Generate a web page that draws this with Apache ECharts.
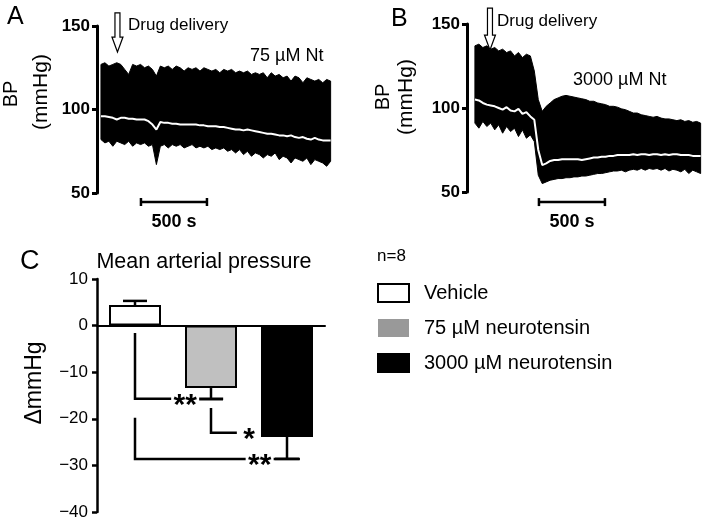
<!DOCTYPE html>
<html><head><meta charset="utf-8">
<script src="https://cdn.jsdelivr.net/npm/echarts@6/dist/echarts.min.js"></script>
<style>html,body{margin:0;padding:0;background:#fff}#c{width:709px;height:523px}</style>
</head><body><div id="c"></div>
<script>
// ---------- Panel A: 75 µM Nt (time in s, BP in mmHg) ----------
const timeA = [30,60,90,120,150,180,210,240,270,300,330,360,390,420,450,480,510,540,570,600,630,660,690,720,750,780,810,840,870,900,930,960,990,1020,1050,1080,1110,1140,1170,1200,1230,1260,1290,1320,1350,1380,1410,1440,1470,1500,1530,1560,1590,1620,1650,1680,1710,1740,1770];
const upperA = [127,128,126,127,128,127,124,121,127,126,127,125,126,124,120,126,125,126,124,126,125,123,125,124,125,123,125,124,123,124,122,124,123,124,122,123,122,123,121,122,121,122,119,122,120,121,119,120,117,120,119,116,119,118,117,118,116,118,117];
const lowerA = [82,80,81,78,81,80,79,81,78,80,79,80,78,79,67,78,79,77,79,78,79,77,78,79,77,78,77,78,76,77,76,77,75,76,74,76,73,75,72,74,73,71,73,72,74,70,72,71,68,71,70,69,71,67,70,69,68,66,69];
const meanA = [96,96,95.5,95,94,95,95,94.5,94.5,94,94,94,93,91,88,92.5,92,92,91.5,91.5,91,91,91,91,91,90.5,90.5,90,90,90,89.5,89.5,89,88.5,88,88,87.5,88,87.5,87,86.5,86,85.5,85.5,85,84.5,84.5,84,84.5,83.5,83,83.5,82.5,82,83,82,81.5,81.5,81.5];

// ---------- Panel B: 3000 µM Nt ----------
const timeB = [60,90,120,150,180,210,240,270,300,330,360,390,420,450,480,510,540,570,600,630,660,690,720,750,780,810,840,870,900,930,960,990,1020,1050,1080,1110,1140,1170,1200,1230,1260,1290,1320,1350,1380,1410,1440,1470,1500,1530,1560,1590,1620,1650,1680,1710,1740,1770];
const upperB = [137,138,136,137,135,136,134,135,133,134,131,133,130,132,131,122,105,98,101,103,105,106,107,107.5,107,106.5,106,105.5,105,104,104,103,102.5,102,101,101,100.5,99.5,99,98,97,97,96,95.5,95,94.5,95,94,93.5,93.5,93,92.5,93,92,92.5,91.5,92,91];
const lowerB = [91,88,92,89,91,87,90,85,89,86,88,83,87,82,84,80,60,55,56,57,57.5,58,58,58.5,58.5,59,59,59.5,59.5,60,60.5,61,61,61.5,62,62.5,62.5,63,62,63,63.5,63,64,63,64,63.5,64,63,64,62.5,63.5,63,62,63.5,61,63,62,61];
const meanB = [105,104.5,103,102,101.5,101,100,99,100.5,98.5,98,99.5,96.5,97.5,95,93,75,66,67,68.5,69,69,69.5,69.5,69.5,69.5,69.5,69,69.5,70,70.5,70.5,71,71,71.5,71.5,72,72,72,72,72.5,72,72.5,72.5,72,72.5,72.5,72,72.5,72,72.5,72.5,72,72,72,71.5,71.5,71.5];

const bpTicks = [50, 100, 150];
const drugTimeA = 155, drugTimeB = 174;
const scaleBarA = [333, 833, 44.6];
const scaleBarB = [545, 1045, 44.0];
const scaleLabel = '500 s';

// ---------- Panel C: mean arterial pressure ----------
const groups = ['Vehicle', '75 µM neurotensin', '3000 µM neurotensin'];
const meanChange = [4.4, -13.4, -23.9];
const semChange = [0.9, 2.4, 4.7];
const cTicks = [10, 0, -10, -20, -30, -40];
// significance brackets: vertical x, top, bottom, horizontal end x, star x, text
const brX = [0, 1, 0];
const brTop = [-1.6, -17.7, -19.8];
const brBottom = [-15.7, -23.0, -28.6];
const brEnd = [1.16, 1.34, 2.17];
const starX = [0.66, 1.5, 1.64];
const starText = ['**', '*', '**'];

const FF = '"Liberation Sans", Arial, Helvetica, sans-serif';
const zip = (a, b) => a.map((v, i) => [v, b[i]]);

// envelope band of the pressure trace, drawn as one polygon through the library's coordinate system
function makeBand(time, lo, up) {
  return function (params, api) {
    if (params.dataIndex !== 0) return null;
    const pts = [];
    for (let i = 0; i < time.length; i++) pts.push(api.coord([time[i], up[i]]));
    for (let i = time.length - 1; i >= 0; i--) pts.push(api.coord([time[i], lo[i]]));
    return {type: 'polygon', shape: {points: pts}, style: {fill: '#000', stroke: '#000', lineWidth: 1}};
  };
}
function scaleBarRender(params, api) {
  const p1 = api.coord([api.value(0), api.value(2)]);
  const p2 = api.coord([api.value(1), api.value(2)]);
  const st = {stroke: '#000', lineWidth: 2.5};
  return {type: 'group', children: [
    {type: 'line', shape: {x1: p1[0], y1: p1[1], x2: p2[0], y2: p2[1]}, style: st},
    {type: 'line', shape: {x1: p1[0], y1: p1[1] - 4, x2: p1[0], y2: p1[1] + 4}, style: st},
    {type: 'line', shape: {x1: p2[0], y1: p2[1] - 4, x2: p2[0], y2: p2[1] + 4}, style: st},
    {type: 'text', x: (p1[0] + p2[0]) / 2, y: p1[1] + 20,
     style: {text: scaleLabel, fontSize: 18, fontWeight: 'bold', fontFamily: FF, fill: '#000',
             align: 'center', verticalAlign: 'middle', textAlign: 'center', textVerticalAlign: 'middle'}}
  ]};
}
function arrowRender(params, api) {
  const t = api.value(0);
  const tip = api.coord([t, api.value(1)]);
  const top = api.coord([t, api.value(2)]);
  const x = tip[0], hy = tip[1] - 15;
  return {type: 'polygon', z2: 10,
    shape: {points: [[x - 2.5, top[1]], [x + 2.5, top[1]], [x + 2.5, hy], [x + 5.5, hy], [x, tip[1]], [x - 5.5, hy], [x - 2.5, hy]]},
    style: {fill: '#fff', stroke: '#000', lineWidth: 1.2}};
}
function errRender(params, api) {
  const x = api.value(0), m = api.value(1), e = api.value(2);
  const end = m >= 0 ? m + e : m - e;
  const a = api.coord([x, m]), b = api.coord([x, end]);
  const st = {stroke: '#000', lineWidth: 2.5};
  return {type: 'group', children: [
    {type: 'line', shape: {x1: a[0], y1: a[1], x2: b[0], y2: b[1]}, style: st},
    {type: 'line', shape: {x1: b[0] - 12, y1: b[1], x2: b[0] + 12, y2: b[1]}, style: st}
  ]};
}
function bracketRender(params, api) {
  const i = params.dataIndex;
  const x = api.value(0), top = api.value(1), bot = api.value(2), xe = api.value(3), xs = api.value(4);
  const a = api.coord([x, top]), b = api.coord([x, bot]), c = api.coord([xe, bot]), s = api.coord([xs, bot]);
  const st = {stroke: '#000', lineWidth: 2.5};
  const txt = starText[i];
  const w = txt.length * 13;
  return {type: 'group', children: [
    {type: 'polyline', shape: {points: [a, b, c]}, style: Object.assign({fill: null}, st)},
    {type: 'rect', shape: {x: s[0] - w / 2 - 1, y: s[1] - 6, width: w + 2, height: 12}, style: {fill: '#fff'}},
    {type: 'text', x: s[0], y: s[1] + 7,
     style: {text: txt, fontSize: 30, fontWeight: 'bold', fontFamily: FF, fill: '#000',
             align: 'center', verticalAlign: 'middle', textAlign: 'center', textVerticalAlign: 'middle'}}
  ]};
}

function txt(text, x, y, size, opts) {
  return Object.assign({type: 'text', x: x, y: y,
    style: Object.assign({text: text, fontSize: size, fontFamily: FF, fill: '#000',
      align: 'left', verticalAlign: 'middle', textAlign: 'left', textVerticalAlign: 'middle'}, (opts && opts.style) || {})},
    (opts && opts.el) || {});
}
const rot = {el: {rotation: Math.PI / 2}, style: {align: 'center', textAlign: 'center'}};
const ctr = {style: {align: 'center', textAlign: 'center'}};

const bpAxis = (gi) => ({gridIndex: gi, type: 'value', min: 50, max: 150, interval: 50,
  axisLine: {show: true, onZero: false, lineStyle: {color: '#000', width: 3}},
  axisTick: {show: true, length: 5, lineStyle: {color: '#000', width: 3}},
  axisLabel: {fontSize: 17, fontWeight: 'bold', color: '#000', margin: 7, fontFamily: FF},
  splitLine: {show: false}});

const chart = echarts.init(document.getElementById('c'));
chart.setOption({
  animation: false,
  backgroundColor: '#fff',
  textStyle: {fontFamily: FF},
  grid: [
    {left: 97, top: 26, width: 237.6, height: 167},
    {left: 467, top: 24, width: 237.6, height: 168},
    {left: 97, top: 279, width: 228, height: 233}
  ],
  xAxis: [
    {gridIndex: 0, type: 'value', min: 0, max: 1800, show: false},
    {gridIndex: 1, type: 'value', min: 0, max: 1800, show: false},
    {gridIndex: 2, type: 'category', data: groups,
     axisLine: {onZero: true, lineStyle: {color: '#000', width: 2}},
     axisTick: {show: false}, axisLabel: {show: false}, splitLine: {show: false}},
    {gridIndex: 2, type: 'value', min: -0.5, max: 2.5, show: false}
  ],
  yAxis: [
    bpAxis(0), bpAxis(1),
    {gridIndex: 2, type: 'value', min: -40, max: 10, interval: 10,
     axisLine: {show: true, onZero: false, lineStyle: {color: '#000', width: 2.5}},
     axisTick: {show: true, length: 5, lineStyle: {color: '#000', width: 2.5}},
     axisLabel: {fontSize: 17, color: '#000', margin: 9, fontFamily: FF,
       formatter: v => v < 0 ? '\u2212' + Math.abs(v) : String(v)},
     splitLine: {show: false}}
  ],
  legend: {
    orient: 'vertical', left: 377, top: 283, padding: 0,
    itemWidth: 31, itemHeight: 18, itemGap: 15, icon: 'rect', selectedMode: false,
    textStyle: {fontSize: 20, color: '#000', fontFamily: FF, padding: [0, 0, 0, 10]},
    data: [
      {name: groups[0]},
      {name: groups[1], itemStyle: {color: '#999999', borderWidth: 0}},
      {name: groups[2]}
    ]
  },
  graphic: [
    txt('A', 7, 17, 25),
    txt('B', 391, 19, 25),
    txt('C', 20, 262, 27),
    txt('BP', 11, 94, 20, rot),
    txt('(mmHg)', 41, 92, 21, rot),
    txt('BP', 383, 97, 20, rot),
    txt('(mmHg)', 406, 97, 21, rot),
    txt('Drug delivery', 128, 25, 17),
    txt('Drug delivery', 497, 21, 17),
    txt('75 µM Nt', 250, 56, 18),
    txt('3000 µM Nt', 573, 80, 18),
    txt('Mean arterial pressure', 204, 262, 21.5, ctr),
    txt('ΔmmHg', 35, 383, 23, rot),
    txt('n=8', 377, 256, 17)
  ],
  series: [
    {type: 'custom', xAxisIndex: 0, yAxisIndex: 0, silent: true, renderItem: makeBand(timeA, lowerA, upperA),
     encode: {x: 0, y: [1, 2]}, data: timeA.map((t, i) => [t, lowerA[i], upperA[i]])},
    {type: 'line', xAxisIndex: 0, yAxisIndex: 0, data: zip(timeA, meanA), symbol: 'none', silent: true,
     lineStyle: {color: '#fff', width: 2}},
    {type: 'custom', xAxisIndex: 1, yAxisIndex: 1, silent: true, renderItem: makeBand(timeB, lowerB, upperB),
     encode: {x: 0, y: [1, 2]}, data: timeB.map((t, i) => [t, lowerB[i], upperB[i]])},
    {type: 'line', xAxisIndex: 1, yAxisIndex: 1, data: zip(timeB, meanB), symbol: 'none', silent: true,
     lineStyle: {color: '#fff', width: 2}},
    {type: 'custom', xAxisIndex: 0, yAxisIndex: 0, clip: false, silent: true, renderItem: scaleBarRender, data: [scaleBarA]},
    {type: 'custom', xAxisIndex: 1, yAxisIndex: 1, clip: false, silent: true, renderItem: scaleBarRender, data: [scaleBarB]},
    {type: 'custom', xAxisIndex: 0, yAxisIndex: 0, clip: false, silent: true, z: 5, renderItem: arrowRender, data: [[drugTimeA, 134.4, 157.8]]},
    {type: 'custom', xAxisIndex: 1, yAxisIndex: 1, clip: false, silent: true, z: 5, renderItem: arrowRender, data: [[drugTimeB, 134.5, 159.5]]},
    {type: 'bar', name: groups[0], xAxisIndex: 2, yAxisIndex: 2, barWidth: 52, barGap: '-100%',
     data: [meanChange[0], '-', '-'], itemStyle: {color: '#ffffff', borderColor: '#000', borderWidth: 2}},
    {type: 'bar', name: groups[1], xAxisIndex: 2, yAxisIndex: 2, barWidth: 52, barGap: '-100%',
     data: ['-', meanChange[1], '-'], itemStyle: {color: '#c0c0c0', borderColor: '#000', borderWidth: 2}},
    {type: 'bar', name: groups[2], xAxisIndex: 2, yAxisIndex: 2, barWidth: 52, barGap: '-100%',
     data: ['-', '-', meanChange[2]], itemStyle: {color: '#000000', borderColor: '#000', borderWidth: 2}},
    {type: 'custom', xAxisIndex: 3, yAxisIndex: 2, clip: false, silent: true, renderItem: errRender,
     data: meanChange.map((m, i) => [i, m, semChange[i]])},
    {type: 'custom', xAxisIndex: 3, yAxisIndex: 2, clip: false, silent: true, z: 4, renderItem: bracketRender,
     data: brX.map((x, i) => [x, brTop[i], brBottom[i], brEnd[i], starX[i]])}
  ]
});
</script></body></html>
